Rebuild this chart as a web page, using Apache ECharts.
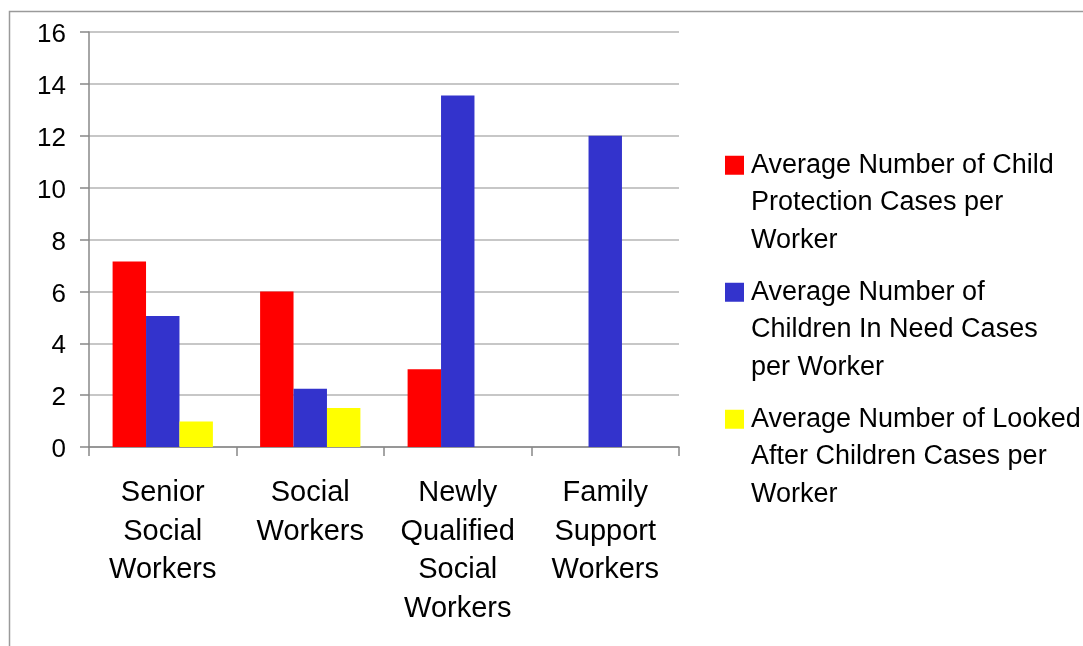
<!DOCTYPE html>
<html>
<head>
<meta charset="utf-8">
<script src="https://cdn.jsdelivr.net/npm/echarts@6/dist/echarts.min.js"></script>
<style>
  html, body { margin: 0; padding: 0; background: #ffffff; }
  #chart { width: 1083px; height: 646px; }
</style>
</head>
<body>
<div id="chart"></div>
<script>
// ---- data ----
const categories = ["Senior Social Workers", "Social Workers", "Newly Qualified Social Workers", "Family Support Workers"];
const seriesNames = [
  "Average Number of Child Protection Cases per Worker",
  "Average Number of Children In Need Cases per Worker",
  "Average Number of Looked After Children Cases per Worker"
];
const legendLabels = [
  "Average Number of Child\nProtection Cases per\nWorker",
  "Average Number of\nChildren In Need Cases\nper Worker",
  "Average Number of Looked\nAfter Children Cases per\nWorker"
];
const childProtection = [7.15, 6.0, 3.0, null];
const childrenInNeed = [5.05, 2.25, 13.55, 12.0];
const lookedAfter = [0.98, 1.5, null, null];
const yTicks = [0, 2, 4, 6, 8, 10, 12, 14, 16];

const colors = ["#ff0000", "#3333cc", "#ffff00"];
const font = "'Liberation Sans', Arial, sans-serif";
const legendMap = {};
// two leading blank lines put the first text line level with the marker
seriesNames.forEach((n, i) => { legendMap[n] = "\n\n" + legendLabels[i]; });

const chart = echarts.init(document.getElementById('chart'), null, { renderer: 'canvas' });
const mkSeries = (name, data, color) => ({
  name: name,
  type: 'bar',
  data: data,
  barGap: '0%',
  barCategoryGap: '32%',
  itemStyle: { color: color },
  emphasis: { disabled: true }
});

chart.setOption({
  animation: false,
  backgroundColor: '#ffffff',
  textStyle: { fontFamily: font },
  grid: { left: 89, right: 404, top: 32, bottom: 199, containLabel: false },
  legend: {
    orient: 'vertical',
    left: 725,
    top: 71.5,
    padding: 0,
    itemGap: -60.5,
    itemWidth: 19,
    itemHeight: 19,
    icon: 'rect',
    selectedMode: false,
    data: seriesNames,
    formatter: n => legendMap[n],
    textStyle: {
      fontFamily: font,
      fontSize: 27,
      color: '#000000',
      lineHeight: 37.5,
      padding: [0, 0, 0, 2]
    }
  },
  xAxis: {
    type: 'category',
    data: categories,
    axisLine: { lineStyle: { color: '#888888', width: 1.5 } },
    axisTick: { show: true, length: 9, lineStyle: { color: '#888888', width: 1.5 } },
    axisLabel: {
      interval: 0,
      margin: 27,
      color: '#000000',
      fontFamily: font,
      fontSize: 29,
      lineHeight: 38.5,
      formatter: v => v.split(' ').join('\n')
    }
  },
  yAxis: {
    type: 'value',
    min: yTicks[0],
    max: yTicks[yTicks.length - 1],
    interval: yTicks[1] - yTicks[0],
    axisLine: { show: true, lineStyle: { color: '#888888', width: 1.5 } },
    axisTick: { show: true, length: 9, lineStyle: { color: '#888888', width: 1.5 } },
    splitLine: { show: true, lineStyle: { color: '#b4b4b4', width: 1.5 } },
    axisLabel: {
      margin: 23,
      color: '#000000',
      fontFamily: font,
      fontSize: 26,
      verticalAlign: 'top',
      lineHeight: 6
    }
  },
  graphic: [{
    type: 'polyline',
    silent: true,
    shape: { points: [[9.5, 646], [9.5, 11.5], [1083, 11.5]] },
    style: { stroke: '#9a9a9a', lineWidth: 1.5, fill: null }
  }],
  series: [
    mkSeries(seriesNames[0], childProtection, colors[0]),
    mkSeries(seriesNames[1], childrenInNeed, colors[1]),
    mkSeries(seriesNames[2], lookedAfter, colors[2])
  ]
});
</script>
</body>
</html>
